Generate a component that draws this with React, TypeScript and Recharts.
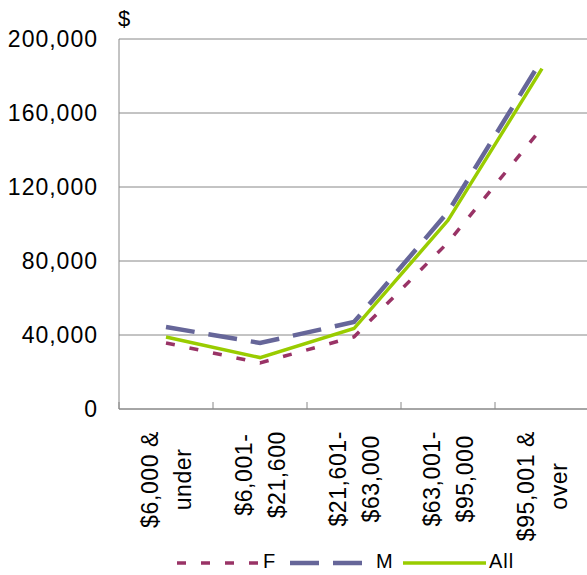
import React from "react";
import {
  LineChart,
  Line,
  XAxis,
  YAxis,
  CartesianGrid,
  Legend,
} from "recharts";

const categories = [
  ["$6,000 &", "under"],
  ["$6,001-", "$21,600"],
  ["$21,601-", "$63,000"],
  ["$63,001-", "$95,000"],
  ["$95,001 &", "over"],
];
const femaleValues = [35700, 24900, 39000, 90000, 152000];
const maleValues = [44300, 35700, 47000, 106500, 189000];
const allValues = [38900, 27800, 43500, 102000, 184000];
const yTicks = [0, 40000, 80000, 120000, 160000, 200000];
const boundaryTicks = [0, 1, 2, 3, 4, 5];
const centerTicks = [0.5, 1.5, 2.5, 3.5, 4.5];

const FONT = '"Liberation Sans", Arial, sans-serif';
const GRID = "#888888";

const series = [
  { key: "F", color: "#993366", width: 3.5, dash: "9 15" },
  { key: "M", color: "#666699", width: 4.5, dash: "29 14" },
  { key: "All", color: "#99CC00", width: 3.5, dash: undefined },
];

const data = categories.map((c, i) => ({
  x: i + 0.5,
  F: femaleValues[i],
  M: maleValues[i],
  All: allValues[i],
}));

// rough Arial advance widths (em) to top-align the rotated labels
const charW: Record<string, number> = {
  "$": 0.556, ",": 0.278, " ": 0.278, "&": 0.667, "-": 0.333, r: 0.333, v: 0.5,
};
const textLen = (s: string, fs: number, ls: number) =>
  s.split("").reduce((a, ch) => a + (charW[ch] ?? 0.556) * fs + ls, 0);

const CAT_FS = 23;
const CAT_LS = 0.6;

const CategoryTick = (props: any) => {
  const { x, y, payload } = props;
  const lines = categories[Math.floor(payload.value)] || [];
  const longest = Math.max(...lines.map((l) => textLen(l, CAT_FS, CAT_LS)));
  const tx = -(22 + longest / 2);
  return (
    <g transform={`translate(${x},${y}) rotate(-90)`}>
      {lines.map((l, i) => (
        <text
          key={i}
          x={tx}
          y={(i - (lines.length - 1) / 2) * 33 + 8.3}
          textAnchor="middle"
          fill="#000"
          fontSize={CAT_FS}
          fontFamily={FONT}
          letterSpacing={CAT_LS}
        >
          {l}
        </text>
      ))}
    </g>
  );
};

const renderLegend = () => (
  <div
    style={{
      display: "flex",
      paddingLeft: 177,
      height: 28,
      fontFamily: FONT,
      fontSize: 20,
      letterSpacing: 1,
      color: "#000",
    }}
  >
    {series.map((s) => (
      <div key={s.key} style={{ width: 113, display: "flex", alignItems: "center" }}>
        <svg width={83} height={28} style={{ display: "block" }}>
          <line
            x1={0}
            x2={83}
            y1={16}
            y2={16}
            stroke={s.color}
            strokeWidth={s.width}
            strokeDasharray={s.dash}
          />
        </svg>
        <span style={{ marginLeft: 3, lineHeight: "28px" }}>{s.key}</span>
      </div>
    ))}
  </div>
);

export default function App() {
  return (
    <div
      style={{
        position: "fixed",
        left: 0,
        top: 0,
        width: 587,
        height: 575,
        overflow: "hidden",
        background: "#fff",
      }}
    >
      <LineChart
        width={600}
        height={575}
        data={data}
        margin={{ top: 39, right: 11, bottom: 0, left: 0 }}
      >
        <CartesianGrid xAxisId="lab" vertical={false} stroke={GRID} />
        <XAxis
          xAxisId="marks"
          dataKey="x"
          type="number"
          domain={[0, 5]}
          ticks={boundaryTicks}
          interval={0}
          mirror
          height={1}
          axisLine={false}
          tickLine={{ stroke: GRID }}
          tickSize={7}
          tick={() => <g />}
        />
        <XAxis
          xAxisId="lab"
          dataKey="x"
          type="number"
          domain={[0, 5]}
          ticks={centerTicks}
          height={138}
          axisLine={{ stroke: GRID }}
          tickLine={false}
          tickSize={0}
          tickMargin={0}
          interval={0}
          tick={<CategoryTick />}
        />
        <YAxis
          domain={[0, 200000]}
          ticks={yTicks}
          width={119}
          axisLine={{ stroke: GRID }}
          tickLine={false}
          tickSize={0}
          tickMargin={21}
          tickFormatter={(v: number) => v.toLocaleString("en-US")}
          tick={{ fill: "#000", fontSize: 23, fontFamily: FONT, letterSpacing: 1 }}
          label={(p: any) => (
            <text
              x={p.viewBox.x + p.viewBox.width - 1}
              y={p.viewBox.y - 13}
              fontSize={22}
              fontFamily={FONT}
              fill="#000"
            >
              $
            </text>
          )}
        />
        <Legend
          verticalAlign="bottom"
          align="left"
          wrapperStyle={{ left: 0, width: 600 }}
          content={renderLegend}
        />
        {series.map((s) => (
          <Line
            key={s.key}
            xAxisId="lab"
            type="linear"
            dataKey={s.key}
            stroke={s.color}
            strokeWidth={s.width}
            strokeDasharray={s.dash}
            dot={false}
            activeDot={false}
            isAnimationActive={false}
          />
        ))}
      </LineChart>
    </div>
  );
}
